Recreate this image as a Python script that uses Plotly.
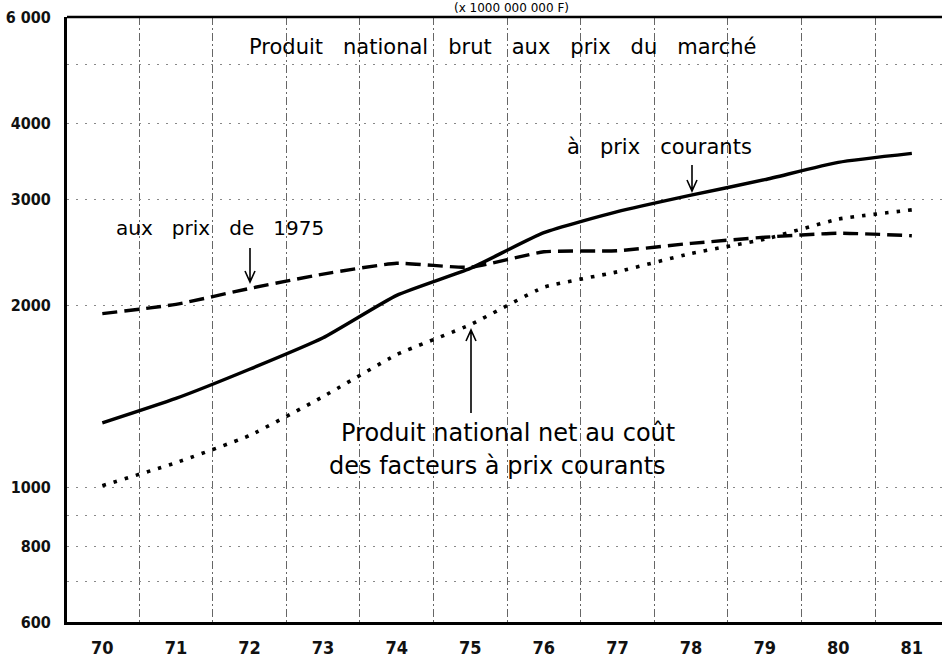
import plotly.graph_objects as go

# ---- data (x 1 000 000 000 F) ----
years = [70, 71, 72, 73, 74, 75, 76, 77, 78, 79, 80, 81]
year_labels = ["70", "71", "72", "73", "74", "75", "76", "77", "78", "79", "80", "81"]
pnb_prix_courants = [1280, 1405, 1570, 1770, 2080, 2305, 2640, 2860, 3045, 3230, 3450, 3570]
pnb_prix_1975 = [1940, 2010, 2135, 2255, 2350, 2315, 2455, 2465, 2535, 2595, 2635, 2610]
pnn_cout_facteurs = [1008, 1100, 1220, 1415, 1660, 1860, 2145, 2275, 2440, 2575, 2780, 2880]
y_tick_vals = [600, 800, 1000, 2000, 3000, 4000, 6000]
y_tick_text = ["600", "800", "1000", "2000", "3000", "4000", "6 000"]
y_grid_vals = [700, 800, 900, 1000, 2000, 3000, 4000, 5000]
x_grid_vals = [70.5, 71.5, 72.5, 73.5, 74.5, 75.5, 76.5, 77.5, 78.5, 79.5, 80.5]

# ---- layout geometry (pixels) ----
W, H = 942, 661
L, R, T, B = 67, 942, 17, 622


def px(x):
    return (x - L) / (R - L)


def py(y):
    return (B - y) / (B - T)


TXT = "DejaVu Sans, Liberation Sans, sans-serif"
NUM = "Liberation Sans Narrow, DejaVu Sans Condensed, sans-serif"

fig = go.Figure()
fig.add_trace(go.Scatter(x=years, y=pnb_prix_1975, mode="lines",
                         line=dict(color="black", width=3.4, dash="15px,7px",
                                   shape="spline", smoothing=0.5),
                         hoverinfo="skip"))
fig.add_trace(go.Scatter(x=years, y=pnn_cout_facteurs, mode="lines",
                         line=dict(color="black", width=3.6, dash="3.6px,8px",
                                   shape="spline", smoothing=0.4),
                         hoverinfo="skip"))
fig.add_trace(go.Scatter(x=years, y=pnb_prix_courants, mode="lines",
                         line=dict(color="black", width=3.4,
                                   shape="spline", smoothing=0.5),
                         hoverinfo="skip"))

fig.update_layout(
    template="none",
    width=W, height=H,
    margin=dict(l=L, r=W - R, t=T, b=H - B, autoexpand=False),
    paper_bgcolor="white", plot_bgcolor="white",
    showlegend=False,
    font=dict(family=TXT, color="black"),
)

fig.update_xaxes(
    automargin=False,
    range=[69.52, 81.41],
    tickvals=years, ticktext=year_labels,
    tickfont=dict(family=NUM, size=18, color="#111", weight="bold"),
    ticks="", showgrid=False, zeroline=False,
    showline=True, linecolor="black", linewidth=3,
    ticklabelstandoff=7,
    minor=dict(tickvals=x_grid_vals, showgrid=True, gridcolor="#666",
               gridwidth=1, griddash="8px,3px,2px,3px", ticks=""),
)
fig.update_yaxes(
    automargin=False,
    type="log",
    range=[2.778151, 3.778151],
    tickvals=y_tick_vals, ticktext=y_tick_text,
    tickfont=dict(family="DejaVu Sans Condensed, sans-serif", size=16,
                  color="#111", weight="bold"),
    ticks="", showgrid=False, zeroline=False,
    showline=True, linecolor="black", linewidth=3,
    ticklabelstandoff=10,
    minor=dict(tickvals=y_grid_vals, showgrid=True, gridcolor="#888",
               gridwidth=1, griddash="2px,7px", ticks=""),
)

# top frame line
fig.add_shape(type="line", xref="paper", yref="paper", x0=0, x1=1, y0=1, y1=1,
              line=dict(color="black", width=2.5))


# arrows
def arrow(x, y_from, y_to, hw=5, hl=11):
    d = 1 if y_to > y_from else -1
    path = (f"M {px(x)},{py(y_from)} L {px(x)},{py(y_to)} "
            f"M {px(x - hw)},{py(y_to - d * hl)} L {px(x)},{py(y_to)} "
            f"L {px(x + hw)},{py(y_to - d * hl)}")
    fig.add_shape(type="path", xref="paper", yref="paper", path=path,
                  line=dict(color="black", width=1.6))


arrow(692, 165, 191)
arrow(250, 248, 282)
arrow(471, 413, 330)

NB = "\u00a0"


def spaced(s, n=2):
    return s.replace(" ", NB * n)


def label(text, x, y, size, family=TXT, pad=1):
    fig.add_annotation(xref="paper", yref="paper", x=px(x), y=py(y), text=text,
                       showarrow=False, xanchor="center", yanchor="middle",
                       borderpad=pad,
                       font=dict(family=family, size=size, color="black"))


label("(x 1000 000 000 F)", 511, 8.5, 12, pad=0)
label(spaced("Produit national brut aux prix du marché", 3), 503, 47, 21)
label(spaced("à prix courants", 3), 659, 147, 21)
label(spaced("aux prix de 1975", 3), 220, 228, 20)
label("Produit national net au coût", 508, 433, 24)
label("des facteurs à prix courants", 497, 466, 24)

fig.write_html(
    "out.html",
    config={"displayModeBar": False},
    post_script="document.body.style.margin='0';document.body.style.padding='0';"
                "document.body.style.overflow='hidden';",
)
